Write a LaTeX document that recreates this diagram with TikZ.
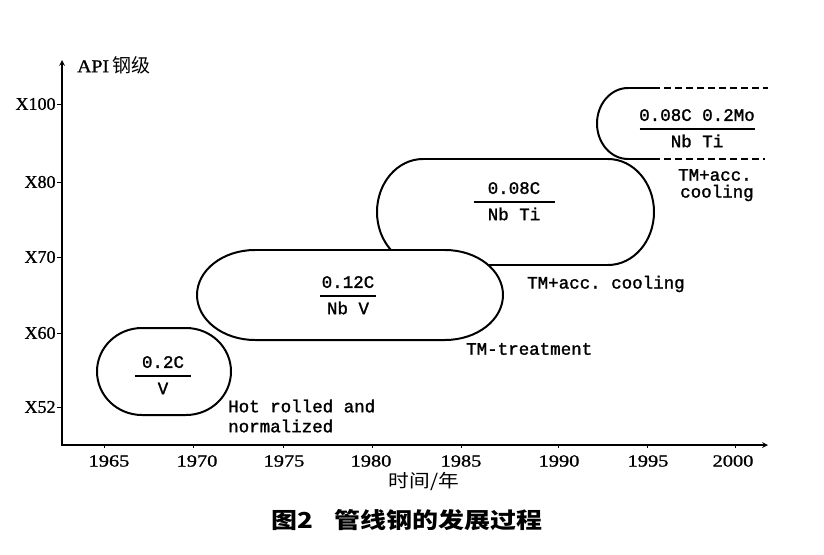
\documentclass[tikz,border=0pt]{standalone}
\usepackage{fontspec}
\setmainfont{Liberation Serif}[FakeBold=1]
\newfontfamily\monofont{Liberation Mono}[FakeBold=1.5]
\newfontfamily\cjk{Noto Sans CJK SC}
\renewcommand{\arraystretch}{1.2}
\setlength{\arrayrulewidth}{0.4mm}
\frenchspacing
\def\capsule[#1](#2,#3)(#4:#5:#6){\draw[#1] (#2-#4+#6,#3-#5) -- (#2+#4-#6,#3-#5) arc[start angle=-90,end angle=90,x radius=#6,y radius=#5] -- (#2-#4+#6,#3+#5) arc[start angle=90,end angle=270,x radius=#6,y radius=#5] -- cycle;}
\def\alloy#1#2#3{\begin{tabular}{@{}c@{}}\makebox[#1]{#2}\\\hline #3\end{tabular}}
\tikzset{
	mono/.style={font=\monofont\fontsize{17.5}{21}\selectfont},
	grade/.style={font=\fontsize{18}{20}\selectfont, inner sep=1pt},
	yearlabel/.style={font=\fontsize{17}{20}\selectfont, inner sep=0pt}
}

\begin{document}
\begin{tikzpicture}[x=1pt,y=-1pt]
		%%%%% START %%%%%
		\useasboundingbox (0,0) rectangle (824,554);
		
		\coordinate (o) at (62,445);
		\coordinate (ytop) at (62,60);
		\coordinate (xend) at (768,445);
		\draw[line width=0.55mm, stealth-stealth] (ytop) -- (o) -- (xend);
		
		\node[anchor=west, inner sep=0pt] (api) at (77,65) {\fontsize{18}{20}\selectfont\scalebox{1.1}[1]{API}\,\cjk\fontsize{19}{20}\selectfont 钢级};
		
		\foreach \y/\g in {104/X100,182/X80,257/X70,333/X60,407/X52}
			\draw[line width=0.3mm] (62,\y) -- (57,\y) node[grade, left] (\g) {\g};
		
		\foreach \x/\lx/\yr in {104/109/1965,193/197/1970,283/284/1975,372/371/1980,461/461/1985,558/559/1990,647/648/1995,735/733/2000}{
			\draw[line width=0.3mm] (\x,445) -- (\x,448);
			\node[yearlabel] (y\yr) at (\lx,461) {\scalebox{1.2}[1]{\yr}};
		}
		
		\capsule[line width=0.7mm](515.5,212)(138.5:53:46)
		\capsule[line width=0.7mm, fill=white](350,295)(153:45:58)
		\capsule[line width=0.7mm](164,371.5)(67:43.5:45)
		
		\draw[line width=0.7mm] (653,88) -- (628,88) arc[start angle=-90,end angle=-270,x radius=31,y radius=35.5] -- (653,159);
		\draw[line width=0.6mm, dash pattern=on 7pt off 4pt] (653,88) -- (768,88);
		\draw[line width=0.6mm, dash pattern=on 7pt off 4pt] (653,159) -- (765,159);
		
		\node[mono, inner sep=0pt] (v) at (163,376) {\alloy{56pt}{0.2C}{V}};
		\node[mono, inner sep=0pt] (nbv) at (348,296) {\alloy{56pt}{0.12C}{Nb V}};
		\node[mono, inner sep=0pt] (nbti) at (514,202) {\alloy{81pt}{0.08C}{Nb Ti}};
		\node[mono, inner sep=0pt] (mo) at (697,129) {\alloy{115pt}{0.08C 0.2Mo}{Nb Ti}};
		
		\node[mono, anchor=west, inner sep=0pt] (hot) at (228,406) {Hot rolled and};
		\node[mono, anchor=west, inner sep=0pt] (norm) at (228,426) {normalized};
		\node[mono, anchor=west, inner sep=0pt] (tmt) at (466,349) {TM-treatment};
		\node[mono, anchor=west, inner sep=0pt] (tmacc) at (527,284) {TM+acc. cooling};
		\node[mono, anchor=west, inner sep=0pt] (tmacc2) at (678,175) {TM+acc.};
		\node[mono, anchor=west, inner sep=0pt] (cool) at (680,193) {cooling};
		
		\node (time) at (424,482) {\cjk\fontsize{18}{20}\selectfont\scalebox{1.15}[1]{时间/年}};
		\node (cap) at (407,520) {\cjk\bfseries\fontsize{22}{26}\selectfont\scalebox{1.18}[1]{图2\hspace{18pt}管线钢的发展过程}};
		
		%%%%% END %%%%%
	\end{tikzpicture}
\end{document}
